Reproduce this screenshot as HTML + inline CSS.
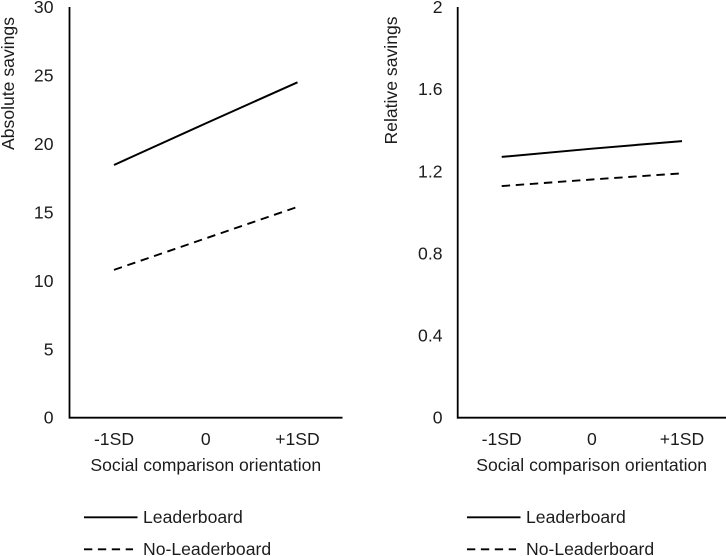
<!DOCTYPE html>
<html>
<head>
<meta charset="utf-8">
<style>
html,body{margin:0;padding:0;background:#fff;width:726px;height:556px;overflow:hidden}
svg{display:block}
text{font-family:"Liberation Sans",sans-serif;font-size:17.6px;fill:#1c1c1c}
</style>
</head>
<body>
<svg id="chart" width="726" height="556" viewBox="0 0 726 556" xmlns="http://www.w3.org/2000/svg">
  <g id="left-panel"></g>
  <g id="right-panel"></g>
  <text transform="translate(14 83.5) rotate(-90)" text-anchor="middle">Absolute savings</text>
  <text transform="translate(397 80.5) rotate(-90)" text-anchor="middle">Relative savings</text>
  <text x="205.8" y="471" text-anchor="middle">Social comparison orientation</text>
  <text x="591.7" y="471" text-anchor="middle">Social comparison orientation</text>
  <g>
    <g>
      <line x1="84" x2="137.5" y1="517.3" y2="517.3" stroke="#000" stroke-width="1.9"/>
      <text x="143" y="523">Leaderboard</text>
    </g>
    <g>
      <line x1="84" x2="133" y1="549.3" y2="549.3" stroke="#000" stroke-width="1.9" stroke-dasharray="8.3 5.6"/>
      <text x="143" y="555">No-Leaderboard</text>
    </g>
  </g>
  <g>
    <g>
      <line x1="467" x2="520.5" y1="517.3" y2="517.3" stroke="#000" stroke-width="1.9"/>
      <text x="526" y="523">Leaderboard</text>
    </g>
    <g>
      <line x1="467" x2="516" y1="549.3" y2="549.3" stroke="#000" stroke-width="1.9" stroke-dasharray="8.3 5.6"/>
      <text x="526" y="555">No-Leaderboard</text>
    </g>
  </g>
</svg>
<script>
const categories = ['-1SD', '0', '+1SD'];
const absoluteLeaderboard = [18.46, 21.5, 24.5];
const absoluteNoLeaderboard = [10.8, 13.1, 15.4];
const relativeLeaderboard = [1.27, 1.31, 1.347];
const relativeNoLeaderboard = [1.128, 1.16, 1.19];
const absoluteTicks = [0, 5, 10, 15, 20, 25, 30];
const relativeTicks = [0, 0.4, 0.8, 1.2, 1.6, 2];

const SVG_NS = 'http://www.w3.org/2000/svg';
const plotTop = 7;
const plotBottom = 417.7;

function makeLine(parent, x1, y1, x2, y2, width) {
  const el = document.createElementNS(SVG_NS, 'line');
  el.setAttribute('x1', x1);
  el.setAttribute('y1', y1);
  el.setAttribute('x2', x2);
  el.setAttribute('y2', y2);
  el.setAttribute('stroke', '#000');
  el.setAttribute('stroke-width', width);
  parent.appendChild(el);
  return el;
}

function makeText(parent, x, y, anchor, content) {
  const el = document.createElementNS(SVG_NS, 'text');
  el.setAttribute('x', x);
  el.setAttribute('y', y);
  el.setAttribute('text-anchor', anchor);
  el.textContent = content;
  parent.appendChild(el);
  return el;
}

function drawPanel(parent, axisX, axisEnd, firstX, lastX, labelRight, maxValue, ticks, solidValues, dashedValues, prefix) {
  const yScale = function (v) { return plotBottom - (v / maxValue) * (plotBottom - plotTop); };
  const xScale = function (i) { return firstX + (i / (categories.length - 1)) * (lastX - firstX); };

  const yAxis = makeLine(parent, axisX, plotTop, axisX, plotBottom + 0.9, 1.8);
  
  

  const xAxis = makeLine(parent, axisX, plotBottom, axisEnd, plotBottom, 1.8);
  
  

  ticks.forEach(function (t) {
    const label = makeText(parent, labelRight, yScale(t) + 6, 'end', String(t));
    
    
  });

  categories.forEach(function (c, i) {
    const label = makeText(parent, xScale(i), 445, 'middle', c);
    
    
  });

  const points = function (values) {
    return values.map(function (v, i) { return xScale(i) + ',' + yScale(v); }).join(' ');
  };

  const solid = document.createElementNS(SVG_NS, 'polyline');
  solid.setAttribute('points', points(solidValues));
  solid.setAttribute('fill', 'none');
  solid.setAttribute('stroke', '#000');
  solid.setAttribute('stroke-width', '2');
  
  
  parent.appendChild(solid);

  const dashed = document.createElementNS(SVG_NS, 'polyline');
  dashed.setAttribute('points', points(dashedValues));
  dashed.setAttribute('fill', 'none');
  dashed.setAttribute('stroke', '#000');
  dashed.setAttribute('stroke-width', '1.9');
  dashed.setAttribute('stroke-dasharray', '8.4 5.7');
  
  
  parent.appendChild(dashed);
}

drawPanel(document.getElementById('left-panel'), 69.5, 342.5, 114, 297.5, 53.5, 30, absoluteTicks, absoluteLeaderboard, absoluteNoLeaderboard, 'left');
drawPanel(document.getElementById('right-panel'), 457.7, 726, 501.7, 682, 442.5, 2, relativeTicks, relativeLeaderboard, relativeNoLeaderboard, 'right');
</script>
</body>
</html>
